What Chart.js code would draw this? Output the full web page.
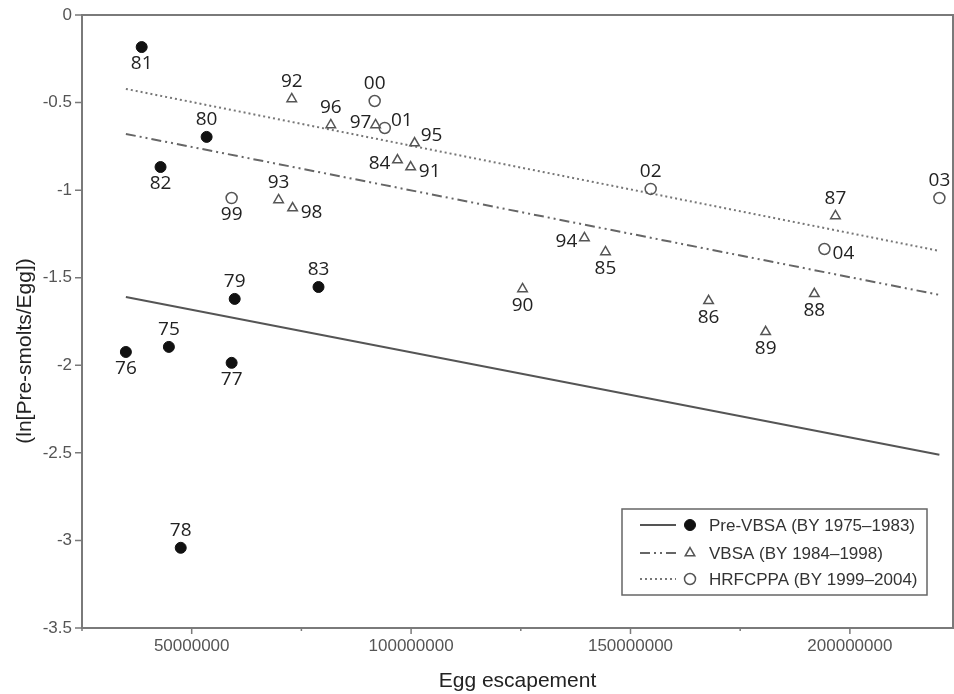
<!DOCTYPE html>
<html>
<head>
<meta charset="utf-8">
<script src="https://cdn.jsdelivr.net/npm/chart.js@4.4.0/dist/chart.umd.min.js"></script>
<style>
  body { margin: 0; background: #fff; }
</style>
</head>
<body>
<canvas id="chart" width="954" height="694"></canvas>
<script>
// brood years and ln(pre-smolts per egg) vs egg escapement, three periods
const preYears = ["75", "76", "77", "78", "79", "80", "81", "82", "83"];
const preEggs = [44800000, 35000000, 59100000, 47500000, 59800000, 53400000, 38600000, 42900000, 78900000];
const preLn = [-1.895, -1.924, -1.986, -3.042, -1.621, -0.696, -0.183, -0.868, -1.553];

const vbsaYears = ["84", "85", "86", "87", "88", "89", "90", "91", "92", "93", "94", "95", "96", "97", "98"];
const vbsaEggs = [96900000, 144300000, 167800000, 196700000, 191900000, 180800000, 125400000, 99900000,
  72800000, 69800000, 139500000, 100800000, 81700000, 91900000, 73000000];
const vbsaLn = [-0.828, -1.353, -1.632, -1.147, -1.592, -1.809, -1.564, -0.868,
  -0.479, -1.056, -1.273, -0.731, -0.628, -0.628, -1.102];

const hrfYears = ["99", "00", "01", "02", "03", "04"];
const hrfEggs = [59100000, 91700000, 94000000, 154600000, 220400000, 194200000];
const hrfLn = [-1.045, -0.491, -0.645, -0.993, -1.045, -1.336];

// fitted lines, evaluated at the ends of the escapement range
const fitEggs = [35000000, 220400000];
const preFit = [-1.61, -2.511];
const vbsaFit = [-0.679, -1.598];
const hrfFit = [-0.422, -1.347];

const xMajorTicks = [50000000, 100000000, 150000000, 200000000];
const xMinorTicks = [25000000, 75000000, 125000000, 175000000];
const yTicks = [0, -0.5, -1, -1.5, -2, -2.5, -3, -3.5];

const legendNames = ["Pre-VBSA (BY 1975\u20131983)", "VBSA (BY 1984\u20131998)", "HRFCPPA (BY 1999\u20132004)"];

// where each year label sits relative to its point (default: above)
const labelSide = {
  "81": "below", "82": "below", "76": "below", "77": "below",
  "97": "upLeft", "84": "left", "94": "left",
  "01": "upRight", "95": "upRight", "91": "right", "98": "right", "04": "right",
  "99": "below", "85": "below", "90": "below", "86": "below", "89": "below", "88": "below",
};
const sideOffset = {
  above: [0, -17], below: [0, 17], left: [-18, 4], upLeft: [-15, -2], right: [19, 5], upRight: [17, -7],
};

const toPoints = (xs, ys) => xs.map((x, i) => ({ x: x, y: ys[i] }));

const AXIS = "#7a7a7a";
const TICK_FONT = "17px 'Liberation Sans', Arial, sans-serif";

const dashDot = [10, 4, 2, 4, 2, 4];
const dotted = [2, 3];

const pointsSets = [
  { label: legendNames[0], years: preYears, data: toPoints(preEggs, preLn), pointStyle: "circle",
    pointRadius: 5.5, backgroundColor: "#111", borderColor: "#111", borderWidth: 1 },
  { label: legendNames[1], years: vbsaYears, data: toPoints(vbsaEggs, vbsaLn), pointStyle: "triangle",
    pointRadius: 5.5, backgroundColor: "rgba(0,0,0,0)", borderColor: "#555", borderWidth: 1.5 },
  { label: legendNames[2], years: hrfYears, data: toPoints(hrfEggs, hrfLn), pointStyle: "circle",
    pointRadius: 5.5, backgroundColor: "rgba(0,0,0,0)", borderColor: "#555", borderWidth: 1.5 },
];

const lineSets = [
  { data: toPoints(fitEggs, preFit), borderColor: "#555", borderWidth: 2, borderDash: [] },
  { data: toPoints(fitEggs, vbsaFit), borderColor: "#666", borderWidth: 2, borderDash: dashDot },
  { data: toPoints(fitEggs, hrfFit), borderColor: "#777", borderWidth: 2, borderDash: dotted },
].map((d) => Object.assign(d, { showLine: true, pointRadius: 0, fill: false }));

// drop the label overhang padding so the plot box stays put
const noPadding = (scale) => {
  scale.paddingTop = 0;
  scale.paddingBottom = 0;
  scale.paddingLeft = 0;
  scale.paddingRight = 0;
};

// frame, tick marks and y title
const framePlugin = {
  id: "frame",
  afterDraw(chart) {
    const { ctx, chartArea: a, scales } = chart;
    ctx.save();
    ctx.strokeStyle = AXIS;
    ctx.lineWidth = 2;
    ctx.strokeRect(a.left, a.top, a.right - a.left, a.bottom - a.top);

    ctx.lineWidth = 1.5;
    ctx.beginPath();
    xMajorTicks.forEach((v) => {
      const x = scales.x.getPixelForValue(v);
      ctx.moveTo(x, a.bottom);
      ctx.lineTo(x, a.bottom + 6);
    });
    xMinorTicks.forEach((v) => {
      const x = scales.x.getPixelForValue(v);
      ctx.moveTo(x, a.bottom);
      ctx.lineTo(x, a.bottom + 3);
    });
    yTicks.forEach((v) => {
      const y = scales.y.getPixelForValue(v);
      ctx.moveTo(a.left, y);
      ctx.lineTo(a.left - 7, y);
    });
    ctx.stroke();

    ctx.translate(25, 351);
    ctx.rotate(-Math.PI / 2);
    ctx.fillStyle = "#222";
    ctx.font = "21px 'Liberation Sans', Arial, sans-serif";
    ctx.textAlign = "center";
    ctx.textBaseline = "middle";
    ctx.fillText("(ln[Pre-smolts/Egg])", 0, 0);
    ctx.restore();
  },
};

// year labels next to each point
const yearLabels = {
  id: "yearLabels",
  afterDatasetsDraw(chart) {
    const ctx = chart.ctx;
    ctx.save();
    ctx.font = "19px 'Open Sans', 'Noto Sans', sans-serif";
    ctx.fillStyle = "#222";
    ctx.textAlign = "center";
    ctx.textBaseline = "middle";
    chart.data.datasets.forEach((ds, i) => {
      if (!ds.years) return;
      chart.getDatasetMeta(i).data.forEach((pt, j) => {
        const yr = ds.years[j];
        const off = sideOffset[labelSide[yr] || "above"];
        ctx.fillText(yr, pt.x + off[0], pt.y + off[1]);
      });
    });
    ctx.restore();
  },
};

// boxed legend with line sample + marker per period
const periodLegend = {
  id: "periodLegend",
  afterDraw(chart) {
    const ctx = chart.ctx;
    const box = { left: 622, top: 509, right: 927, bottom: 595 };
    const rowsY = [525, 553, 579];
    ctx.save();
    ctx.fillStyle = "#fff";
    ctx.fillRect(box.left, box.top, box.right - box.left, box.bottom - box.top);
    ctx.strokeStyle = "#666";
    ctx.lineWidth = 1.5;
    ctx.strokeRect(box.left, box.top, box.right - box.left, box.bottom - box.top);

    pointsSets.forEach((ps, i) => {
      const line = lineSets[i];
      const y = rowsY[i];
      ctx.strokeStyle = line.borderColor;
      ctx.lineWidth = 2;
      ctx.setLineDash(line.borderDash);
      ctx.beginPath();
      ctx.moveTo(640, y);
      ctx.lineTo(676, y);
      ctx.stroke();
      ctx.setLineDash([]);

      ctx.fillStyle = ps.backgroundColor;
      ctx.strokeStyle = ps.borderColor;
      ctx.lineWidth = ps.borderWidth;
      ctx.beginPath();
      if (ps.pointStyle === "triangle") {
        const r = ps.pointRadius;
        ctx.moveTo(690, y - r);
        ctx.lineTo(690 + r * 0.866, y + r / 2);
        ctx.lineTo(690 - r * 0.866, y + r / 2);
        ctx.closePath();
      } else {
        ctx.arc(690, y, ps.pointRadius, 0, Math.PI * 2);
      }
      ctx.fill();
      ctx.stroke();

      ctx.fillStyle = "#333";
      ctx.font = TICK_FONT;
      ctx.textAlign = "left";
      ctx.textBaseline = "middle";
      ctx.fillText(ps.label, 709, y + 1);
    });
    ctx.restore();
  },
};

new Chart(document.getElementById("chart"), {
  type: "scatter",
  data: { datasets: [...pointsSets, ...lineSets] },
  options: {
    responsive: false,
    animation: false,
    devicePixelRatio: 1,
    layout: { autoPadding: false, padding: { top: 15, right: 1, left: 0, bottom: 0 } },
    plugins: { legend: { display: false }, tooltip: { enabled: false } },
    scales: {
      x: {
        type: "linear",
        min: 25000000,
        max: 223500000,
        afterBuildTicks: (scale) => { scale.ticks = xMajorTicks.map((v) => ({ value: v })); },
        afterFit: (scale) => { scale.height = 66; noPadding(scale); },
        grid: { display: false, drawTicks: false },
        border: { display: false },
        ticks: {
          padding: 8,
          color: "#555",
          font: { family: "'Liberation Sans', Arial, sans-serif", size: 17 },
          callback: (v) => String(v),
        },
        title: {
          display: true,
          text: "Egg escapement",
          color: "#222",
          font: { family: "'Liberation Sans', Arial, sans-serif", size: 21 },
          padding: { top: 0, bottom: 0 },
        },
      },
      y: {
        min: -3.5,
        max: 0,
        afterBuildTicks: (scale) => { scale.ticks = yTicks.map((v) => ({ value: v })); },
        afterFit: (scale) => { scale.width = 82; noPadding(scale); },
        grid: { display: false, drawTicks: false },
        border: { display: false },
        ticks: {
          padding: 10,
          color: "#555",
          font: { family: "'Liberation Sans', Arial, sans-serif", size: 17 },
          callback: (v) => String(v),
        },
      },
    },
  },
  plugins: [framePlugin, yearLabels, periodLegend],
});
</script>
</body>
</html>
